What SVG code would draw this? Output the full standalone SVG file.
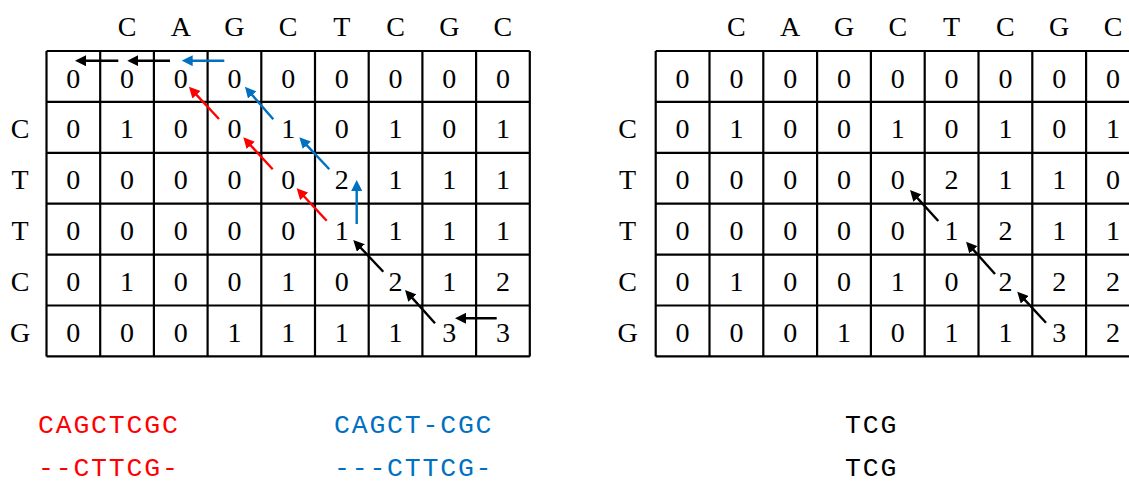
<svg xmlns="http://www.w3.org/2000/svg" width="1129" height="483" viewBox="0 0 1129 483">
<style>
.grid{fill:none;stroke:#000;stroke-width:2.2}
.n{font-family:"Liberation Serif","Times New Roman",serif;font-size:28px;fill:#000;text-anchor:middle}
.m{font-family:"Liberation Mono","Courier New",monospace;font-size:26.5px;letter-spacing:1.8px}
.k{stroke:#000;stroke-width:2.4;fill:none}
.r{stroke:#FF0000;stroke-width:2.4;fill:none}
.b{stroke:#0070C0;stroke-width:2.4;fill:none}
</style>
<defs>
<marker id="ak" viewBox="0 0 11 11" refX="3" refY="5.5" markerWidth="11" markerHeight="11" markerUnits="userSpaceOnUse" orient="auto"><path d="M0,0 L11,5.5 L0,11 z" fill="#000"/></marker>
<marker id="ar" viewBox="0 0 11 11" refX="3" refY="5.5" markerWidth="11" markerHeight="11" markerUnits="userSpaceOnUse" orient="auto"><path d="M0,0 L11,5.5 L0,11 z" fill="#FF0000"/></marker>
<marker id="ab" viewBox="0 0 11 11" refX="3" refY="5.5" markerWidth="11" markerHeight="11" markerUnits="userSpaceOnUse" orient="auto"><path d="M0,0 L11,5.5 L0,11 z" fill="#0070C0"/></marker>
</defs>
<rect width="1129" height="483" fill="#fff"/>

<g id="left-matrix">
<path class="grid" d="M46.5,51V356.4M100.2,51V356.4M153.9,51V356.4M207.6,51V356.4M261.3,51V356.4M315,51V356.4M368.7,51V356.4M422.4,51V356.4M476.1,51V356.4M529.8,51V356.4M46.5,51H529.8M46.5,101.9H529.8M46.5,152.8H529.8M46.5,203.7H529.8M46.5,254.6H529.8M46.5,305.5H529.8M46.5,356.4H529.8"/>
<g id="left-header">
<text class="n" x="127.05" y="35.5">C</text><text class="n" x="180.75" y="35.5">A</text><text class="n" x="234.45" y="35.5">G</text><text class="n" x="288.15" y="35.5">C</text><text class="n" x="341.85" y="35.5">T</text><text class="n" x="395.55" y="35.5">C</text><text class="n" x="449.25" y="35.5">G</text><text class="n" x="502.95" y="35.5">C</text>
</g>
<g id="left-rowlabels">
<text class="n" x="20" y="138.4">C</text><text class="n" x="20" y="189.3">T</text><text class="n" x="20" y="240.2">T</text><text class="n" x="20" y="291.1">C</text><text class="n" x="20" y="342">G</text>
</g>
<g transform="translate(0,87.5)"><text class="n" x="73.35">0</text><text class="n" x="127.05">0</text><text class="n" x="180.75">0</text><text class="n" x="234.45">0</text><text class="n" x="288.15">0</text><text class="n" x="341.85">0</text><text class="n" x="395.55">0</text><text class="n" x="449.25">0</text><text class="n" x="502.95">0</text></g>
<g transform="translate(0,138.4)"><text class="n" x="73.35">0</text><text class="n" x="127.05">1</text><text class="n" x="180.75">0</text><text class="n" x="234.45">0</text><text class="n" x="288.15">1</text><text class="n" x="341.85">0</text><text class="n" x="395.55">1</text><text class="n" x="449.25">0</text><text class="n" x="502.95">1</text></g>
<g transform="translate(0,189.3)"><text class="n" x="73.35">0</text><text class="n" x="127.05">0</text><text class="n" x="180.75">0</text><text class="n" x="234.45">0</text><text class="n" x="288.15">0</text><text class="n" x="341.85">2</text><text class="n" x="395.55">1</text><text class="n" x="449.25">1</text><text class="n" x="502.95">1</text></g>
<g transform="translate(0,240.2)"><text class="n" x="73.35">0</text><text class="n" x="127.05">0</text><text class="n" x="180.75">0</text><text class="n" x="234.45">0</text><text class="n" x="288.15">0</text><text class="n" x="341.85">1</text><text class="n" x="395.55">1</text><text class="n" x="449.25">1</text><text class="n" x="502.95">1</text></g>
<g transform="translate(0,291.1)"><text class="n" x="73.35">0</text><text class="n" x="127.05">1</text><text class="n" x="180.75">0</text><text class="n" x="234.45">0</text><text class="n" x="288.15">1</text><text class="n" x="341.85">0</text><text class="n" x="395.55">2</text><text class="n" x="449.25">1</text><text class="n" x="502.95">2</text></g>
<g transform="translate(0,342)"><text class="n" x="73.35">0</text><text class="n" x="127.05">0</text><text class="n" x="180.75">0</text><text class="n" x="234.45">1</text><text class="n" x="288.15">1</text><text class="n" x="341.85">1</text><text class="n" x="395.55">1</text><text class="n" x="449.25">3</text><text class="n" x="502.95">3</text></g>
</g>

<g id="right-matrix">
<path class="grid" d="M655.7,51V356.4M709.5,51V356.4M763.3,51V356.4M817.1,51V356.4M870.9,51V356.4M924.7,51V356.4M978.5,51V356.4M1032.3,51V356.4M1086.1,51V356.4M1139.9,51V356.4M655.7,51H1139.9M655.7,101.9H1139.9M655.7,152.8H1139.9M655.7,203.7H1139.9M655.7,254.6H1139.9M655.7,305.5H1139.9M655.7,356.4H1139.9"/>
<g id="right-header">
<text class="n" x="736.4" y="35.5">C</text><text class="n" x="790.2" y="35.5">A</text><text class="n" x="844" y="35.5">G</text><text class="n" x="897.8" y="35.5">C</text><text class="n" x="951.6" y="35.5">T</text><text class="n" x="1005.4" y="35.5">C</text><text class="n" x="1059.2" y="35.5">G</text><text class="n" x="1113" y="35.5">C</text>
</g>
<g id="right-rowlabels">
<text class="n" x="627.5" y="138.4">C</text><text class="n" x="627.5" y="189.3">T</text><text class="n" x="627.5" y="240.2">T</text><text class="n" x="627.5" y="291.1">C</text><text class="n" x="627.5" y="342">G</text>
</g>
<g transform="translate(0,87.5)"><text class="n" x="682.6">0</text><text class="n" x="736.4">0</text><text class="n" x="790.2">0</text><text class="n" x="844">0</text><text class="n" x="897.8">0</text><text class="n" x="951.6">0</text><text class="n" x="1005.4">0</text><text class="n" x="1059.2">0</text><text class="n" x="1113">0</text></g>
<g transform="translate(0,138.4)"><text class="n" x="682.6">0</text><text class="n" x="736.4">1</text><text class="n" x="790.2">0</text><text class="n" x="844">0</text><text class="n" x="897.8">1</text><text class="n" x="951.6">0</text><text class="n" x="1005.4">1</text><text class="n" x="1059.2">0</text><text class="n" x="1113">1</text></g>
<g transform="translate(0,189.3)"><text class="n" x="682.6">0</text><text class="n" x="736.4">0</text><text class="n" x="790.2">0</text><text class="n" x="844">0</text><text class="n" x="897.8">0</text><text class="n" x="951.6">2</text><text class="n" x="1005.4">1</text><text class="n" x="1059.2">1</text><text class="n" x="1113">0</text></g>
<g transform="translate(0,240.2)"><text class="n" x="682.6">0</text><text class="n" x="736.4">0</text><text class="n" x="790.2">0</text><text class="n" x="844">0</text><text class="n" x="897.8">0</text><text class="n" x="951.6">1</text><text class="n" x="1005.4">2</text><text class="n" x="1059.2">1</text><text class="n" x="1113">1</text></g>
<g transform="translate(0,291.1)"><text class="n" x="682.6">0</text><text class="n" x="736.4">1</text><text class="n" x="790.2">0</text><text class="n" x="844">0</text><text class="n" x="897.8">1</text><text class="n" x="951.6">0</text><text class="n" x="1005.4">2</text><text class="n" x="1059.2">2</text><text class="n" x="1113">2</text></g>
<g transform="translate(0,342)"><text class="n" x="682.6">0</text><text class="n" x="736.4">0</text><text class="n" x="790.2">0</text><text class="n" x="844">1</text><text class="n" x="897.8">0</text><text class="n" x="951.6">1</text><text class="n" x="1005.4">1</text><text class="n" x="1059.2">3</text><text class="n" x="1113">2</text></g>
</g>

<g id="connectors">
<line class="k" x1="118.3" y1="60.7" x2="83" y2="60.7" marker-end="url(#ak)"/>
<line class="k" x1="170" y1="60.7" x2="135.3" y2="60.7" marker-end="url(#ak)"/>
<line class="b" x1="224.3" y1="60.7" x2="189.7" y2="60.7" marker-end="url(#ab)"/>
<line class="b" x1="273.3" y1="119.3" x2="250.2" y2="92.7" marker-end="url(#ab)"/>
<line class="r" x1="219" y1="119" x2="194.4" y2="92.6" marker-end="url(#ar)"/>
<line class="r" x1="272.7" y1="169.3" x2="248.7" y2="143.2" marker-end="url(#ar)"/>
<line class="r" x1="326.7" y1="220.7" x2="302.1" y2="194.2" marker-end="url(#ar)"/>
<line class="b" x1="329.3" y1="169.3" x2="304.8" y2="143.1" marker-end="url(#ab)"/>
<line class="b" x1="356.7" y1="224" x2="356.7" y2="188" marker-end="url(#ab)"/>
<line class="k" x1="383.3" y1="271.7" x2="358.8" y2="245.8" marker-end="url(#ak)"/>
<line class="k" x1="435" y1="323.3" x2="410.4" y2="295.9" marker-end="url(#ak)"/>
<line class="k" x1="496.7" y1="318.3" x2="463" y2="318.3" marker-end="url(#ak)"/>
<line class="k" x1="938.3" y1="221" x2="915.4" y2="195.9" marker-end="url(#ak)"/>
<line class="k" x1="995" y1="274" x2="971.4" y2="247.6" marker-end="url(#ak)"/>
<line class="k" x1="1046" y1="322.7" x2="1022.7" y2="297.6" marker-end="url(#ak)"/>
</g>

<g id="alignments">
<text class="m" x="38" y="433" fill="#FF0000">CAGCTCGC</text>
<text class="m" x="38" y="476" fill="#FF0000">--CTTCG-</text>
<text class="m" x="334" y="433" fill="#0070C0">CAGCT-CGC</text>
<text class="m" x="334" y="476" fill="#0070C0">---CTTCG-</text>
<text class="m" x="845" y="433" fill="#000">TCG</text>
<text class="m" x="845" y="476" fill="#000">TCG</text>
</g>
</svg>
